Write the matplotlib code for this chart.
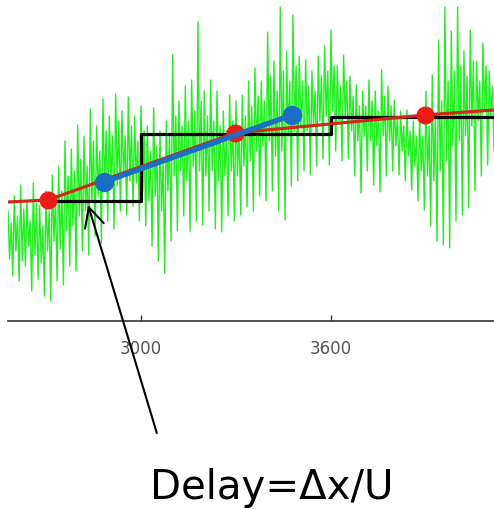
import numpy as np
import matplotlib.pyplot as plt

# senal medida (verde), muestreada cada 5 unidades desde x0
x0 = 2580
dx = 5
senal = [1.10, 0.62, 0.98, 0.45, 1.25, 0.70, 1.05, 0.40, 1.36, 0.60, 1.12, 0.55,
         1.20, 0.75, 1.00, 0.30, 1.38, 0.66, 1.18, 0.42, 1.15, 0.58, 0.95, 0.25,
         1.30, 0.70, 1.10, 0.20, 1.46, 0.80, 1.22, 0.40, 1.55, 0.72, 1.30, 0.36,
         1.80, 0.90, 1.45, 0.55, 1.72, 0.95, 1.50, 0.50, 1.96, 1.05, 1.62, 0.70,
         1.85, 1.10, 1.55, 0.66, 2.12, 1.20, 1.80, 0.85, 1.95, 1.25, 1.70, 0.78,
         2.22, 1.30, 1.90, 1.00, 2.05, 1.40, 1.85, 0.92, 2.27, 1.35, 2.00, 1.10,
         2.10, 1.45, 1.85, 1.06, 2.24, 1.40, 1.95, 1.15, 2.05, 1.38, 1.80, 1.00,
         2.15, 1.30, 1.90, 0.95, 1.95, 1.20, 1.70, 0.75, 2.13, 1.25, 1.75, 0.60,
         1.90, 1.10, 1.60, 0.48, 2.00, 1.30, 1.85, 0.80, 2.66, 1.45, 2.05, 0.90,
         2.20, 1.50, 1.95, 1.05, 2.35, 1.40, 2.00, 0.90, 2.41, 1.55, 2.10, 1.00,
         2.99, 1.50, 2.20, 0.96, 2.30, 1.45, 2.05, 1.10, 2.41, 1.50, 2.00, 0.92,
         2.30, 1.40, 1.95, 0.89, 2.10, 1.45, 1.90, 1.05, 2.26, 1.50, 2.00, 1.00,
         2.20, 1.45, 1.95, 1.06, 2.26, 1.55, 2.05, 1.14, 2.40, 1.60, 2.15, 1.10,
         2.53, 1.70, 2.25, 1.25, 2.40, 1.75, 2.20, 1.20, 2.89, 1.80, 2.45, 1.30,
         2.60, 1.65, 2.30, 1.10, 3.14, 1.70, 2.50, 1.01, 2.70, 1.85, 2.40, 1.35,
         3.06, 1.90, 2.55, 1.40, 2.65, 1.95, 2.40, 1.50, 2.61, 1.90, 2.35, 1.46,
         2.50, 1.95, 2.30, 1.55, 2.65, 2.00, 2.45, 1.62, 2.75, 2.05, 2.50, 1.56,
         2.91, 2.10, 2.55, 1.70, 2.55, 2.00, 2.35, 1.60, 2.66, 2.05, 2.40, 1.62,
         2.45, 1.90, 2.25, 1.45, 2.36, 1.80, 2.15, 1.28, 2.30, 1.85, 2.15, 1.50,
         2.41, 1.80, 2.20, 1.36, 2.30, 1.75, 2.10, 1.29, 2.51, 1.85, 2.25, 1.45,
         2.35, 1.80, 2.15, 1.50, 2.21, 1.75, 2.05, 1.46, 2.10, 1.70, 1.95, 1.40,
         2.11, 1.65, 1.90, 1.31, 2.00, 1.55, 1.85, 1.20, 2.06, 1.50, 1.85, 1.11,
         2.30, 1.45, 1.95, 0.95, 2.46, 1.40, 2.05, 0.80, 2.81, 1.50, 2.20, 0.76,
         3.14, 1.60, 2.40, 0.73, 2.90, 1.75, 2.50, 1.00, 3.14, 1.80, 2.55, 1.06,
         2.70, 1.85, 2.45, 1.13, 2.91, 1.95, 2.60, 1.30, 2.60, 2.00, 2.40, 1.45,
         2.78, 2.10, 2.55, 1.56, 2.50, 2.05, 2.35, 1.71]

# ajuste por tramos (rojo)
rojo_x = [2580, 2706, 3297, 3897, 4115]
rojo_y = [1.19, 1.21, 1.88, 2.06, 2.11]

# escalones (negro)
negro_x = [2728, 3000, 3600, 4115]
negro_y = [1.20, 1.87, 2.04, 2.04]

# segmento azul
azul_x = [2883, 3477]
azul_y = [1.39, 2.06]

ticks_x = [3000, 3600]

fig = plt.figure(figsize=(4.94, 5.09), dpi=100)
ax = fig.add_axes([8/494, 188/509, 1 - 8/494, 321/509])

xs = x0 + dx*np.arange(len(senal))
ax.plot(xs, senal, color="#22ee22", lw=1.0)
ax.plot(negro_x, negro_y, color="black", lw=2.3, drawstyle="steps-post")
ax.plot(rojo_x, rojo_y, color="#cc2a14", lw=2.3, marker="o", ms=12,
        mfc="#ee1a1a", mec="#ee1a1a", markevery=[1, 2, 3])
ax.plot(azul_x, azul_y, color="#1a6ec4", lw=3.8, marker="o", ms=13,
        solid_capstyle="round")

ax.set_xlim(2580, 4115)
ax.set_ylim(0, 3.21)
for s in ["left", "top", "right"]:
    ax.spines[s].set_visible(False)
ax.spines["bottom"].set_linewidth(1.2)
ax.spines["bottom"].set_color("#333333")
ax.set_yticks([])
ax.set_xticks(ticks_x)
ax.tick_params(axis="x", direction="in", length=4, width=1, color="#333333",
               pad=14, labelsize=12, labelcolor="#555555")

# flecha y texto
ax.annotate("", xy=(2833, 1.16), xytext=(3050, -1.12),
            xycoords="data", textcoords="data", annotation_clip=False,
            arrowprops=dict(arrowstyle="->,head_length=0.7,head_width=0.35",
                            mutation_scale=20, lw=1.5, color="black",
                            shrinkA=0, shrinkB=0))
fig.text(272/494, 10/509, "Delay=\u0394x/U", fontsize=29, ha="center",
         va="baseline")

plt.savefig("out.png", dpi=100)
